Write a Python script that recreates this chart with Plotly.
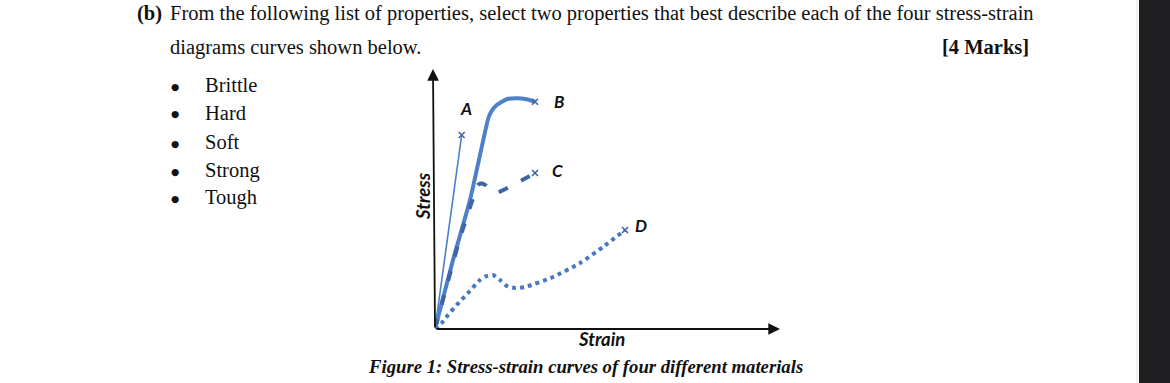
import plotly.graph_objects as go

# ---------------- data (strain, stress in arbitrary units) ----------------
curve_names = ["A", "B", "C", "D"]

a_strain = [0.0, 2.67]
a_stress = [0.0, 77.6]

b_strain = [0.0, 1.8, 3.5, 5.33, 5.6, 6.17, 7.17, 8.17, 9.17, 10.0]
b_stress = [0.0, 27.6, 51.6, 84.3, 86.8, 89.6, 91.9, 92.3, 91.9, 90.9]

c_strain = [0.0, 2.5, 3.9, 4.1, 4.35, 4.7, 5.1, 5.6, 6.1, 10.0]
c_stress = [0.0, 36.4, 53.6, 56.4, 57.8, 58.2, 57.4, 55.4, 54.4, 62.4]

d_strain = [0.0, 0.67, 1.3, 2.17, 3.3, 4.5, 5.17, 5.8, 6.5, 7.2, 8.0, 9.0, 11.8, 14.5, 16.8, 19.0]
d_stress = [0.0, 2.4, 5.6, 9.6, 14.4, 19.6, 21.2, 21.6, 19.6, 17.2, 16.4, 16.8, 20.8, 26.4, 32.8, 39.6]

properties = ["Brittle", "Hard", "Soft", "Strong", "Tough"]

# ---------------- layout geometry ----------------
W, H = 1170, 383
ORIGIN = (435, 329)      # pixel of (0,0)
SX, SY = 10.0, 2.5       # pixels per data unit
X_MAX, Y_MAX = 34.5, 104.0


def px(x):
    return x / W


def py(y):
    return 1 - y / H


x_dom = [px(ORIGIN[0]), px(ORIGIN[0] + X_MAX * SX)]
y_dom = [py(ORIGIN[1]), py(ORIGIN[1] - Y_MAX * SY)]

BLUE = "#4d80c8"
BLUE_C = "#3d66a8"
BLUE_D = "#4a78c0"

fig = go.Figure()

fig.add_trace(go.Scatter(x=a_strain, y=a_stress, mode="lines",
                         line=dict(color=BLUE, width=1.6), hoverinfo="skip"))
fig.add_trace(go.Scatter(x=b_strain, y=b_stress, mode="lines",
                         line=dict(color=BLUE, width=4, shape="spline", smoothing=0.5),
                         hoverinfo="skip"))
fig.add_trace(go.Scatter(x=c_strain, y=c_stress, mode="lines",
                         line=dict(color=BLUE_C, width=4, dash="10px,15px",
                                   shape="spline", smoothing=0.5),
                         hoverinfo="skip"))
fig.add_trace(go.Scatter(x=d_strain, y=d_stress, mode="lines",
                         line=dict(color=BLUE_D, width=4, dash="4px,4px",
                                   shape="spline", smoothing=0.6),
                         hoverinfo="skip"))

# end-of-curve fracture markers
ends_x = [a_strain[-1], b_strain[-1], c_strain[-1], d_strain[-1]]
ends_y = [a_stress[-1], b_stress[-1], c_stress[-1], d_stress[-1]]
fig.add_trace(go.Scatter(x=ends_x, y=ends_y, mode="markers",
                         marker=dict(symbol="x-thin", size=6,
                                     line=dict(color=BLUE_C, width=1.6)),
                         hoverinfo="skip"))

annotations = []

# axis arrows
annotations.append(dict(x=X_MAX, y=0, ax=0, ay=0, xref="x", yref="y", axref="x", ayref="y",
                        text="", showarrow=True, arrowhead=2, arrowsize=1.3,
                        arrowwidth=1.8, arrowcolor="#111111", standoff=0))
annotations.append(dict(x=-0.2, y=Y_MAX, ax=0, ay=0, xref="x", yref="y", axref="x", ayref="y",
                        text="", showarrow=True, arrowhead=2, arrowsize=1.3,
                        arrowwidth=1.8, arrowcolor="#111111", standoff=0))

# curve labels
label_font = dict(family="Lato, Open Sans, sans-serif", size=17, color="#111111")
label_pos = {"A": (a_strain[-1] + 0.4, a_stress[-1] + 10.5),
             "B": (b_strain[-1] + 2.4, b_stress[-1]),
             "C": (c_strain[-1] + 2.2, c_stress[-1] + 1.2),
             "D": (d_strain[-1] + 1.6, d_stress[-1] + 2.0)}
for n in curve_names:
    lx, ly = label_pos[n]
    annotations.append(dict(x=lx, y=ly, xref="x", yref="y", text=f"<b><i>{n}</i></b>",
                            xanchor="center", yanchor="middle",
                            showarrow=False, font=label_font))

# axis titles
axis_font = dict(family="Lato, sans-serif", size=18.5, color="#111111")
annotations.append(dict(x=px(423), y=py(196), xref="paper", yref="paper",
                        xanchor="center", yanchor="middle",
                        text="<b><i>Stress</i></b>", textangle=-90, showarrow=False,
                        font=axis_font))
annotations.append(dict(x=px(601), y=py(339), xref="paper", yref="paper",
                        xanchor="center", yanchor="middle",
                        text="<b><i>Strain</i></b>", showarrow=False,
                        font=axis_font))

serif = "Liberation Serif, Times New Roman, serif"
tfont = dict(family=serif, size=20.5, color="#111111")

# question text
annotations.append(dict(x=px(135), y=py(14), xref="paper", yref="paper", xanchor="left",
                        yanchor="middle", text="<b>(b)</b>", showarrow=False, font=tfont))
annotations.append(dict(x=px(168), y=py(14), xref="paper", yref="paper", xanchor="left",
                        yanchor="middle",
                        text="From the following list of properties, select two properties that best describe each of the four stress-strain",
                        showarrow=False, font=tfont))
annotations.append(dict(x=px(168), y=py(47), xref="paper", yref="paper", xanchor="left",
                        yanchor="middle", text="diagrams curves shown below.",
                        showarrow=False, font=tfont))
annotations.append(dict(x=px(1031), y=py(47), xref="paper", yref="paper", xanchor="right",
                        yanchor="middle", text="<b>[4 Marks]</b>",
                        showarrow=False, font=tfont))

# bullet list
rows_y = [85, 113, 142, 170, 197]
for name, yy in zip(properties, rows_y):
    annotations.append(dict(x=px(175), y=py(yy + 1), xref="paper", yref="paper",
                            xanchor="center", yanchor="middle", text="●",
                            showarrow=False,
                            font=dict(family="DejaVu Sans, sans-serif", size=9.5,
                                      color="#111111")))
    annotations.append(dict(x=px(203), y=py(yy), xref="paper", yref="paper",
                            xanchor="left", yanchor="middle", text=name,
                            showarrow=False, font=tfont))

# caption
annotations.append(dict(x=px(585), y=py(366), xref="paper", yref="paper",
                        xanchor="center", yanchor="middle",
                        text="<b><i>Figure 1: Stress-strain curves of four different materials</i></b>",
                        showarrow=False, font=dict(family=serif, size=18.7, color="#111111")))

shapes = [
    dict(type="rect", xref="paper", yref="paper", x0=px(1139), x1=1.0, y0=0, y1=1,
         fillcolor="#1e1d1f", line=dict(width=0), layer="above"),
    dict(type="line", xref="paper", yref="paper", x0=px(1137), x1=px(1137), y0=0, y1=1,
         line=dict(color="#e4e4e4", width=1)),
]

fig.update_layout(
    width=W, height=H, autosize=False,
    margin=dict(l=0, r=0, t=0, b=0, pad=0),
    paper_bgcolor="white", plot_bgcolor="white",
    showlegend=False,
    xaxis=dict(domain=x_dom, range=[0, X_MAX], visible=False, fixedrange=True),
    yaxis=dict(domain=y_dom, range=[0, Y_MAX], visible=False, fixedrange=True),
    annotations=annotations,
    shapes=shapes,
)

fig.write_html("out.html", config={"displayModeBar": False},
               post_script="document.body.style.margin='0';document.body.style.overflow='hidden';")
